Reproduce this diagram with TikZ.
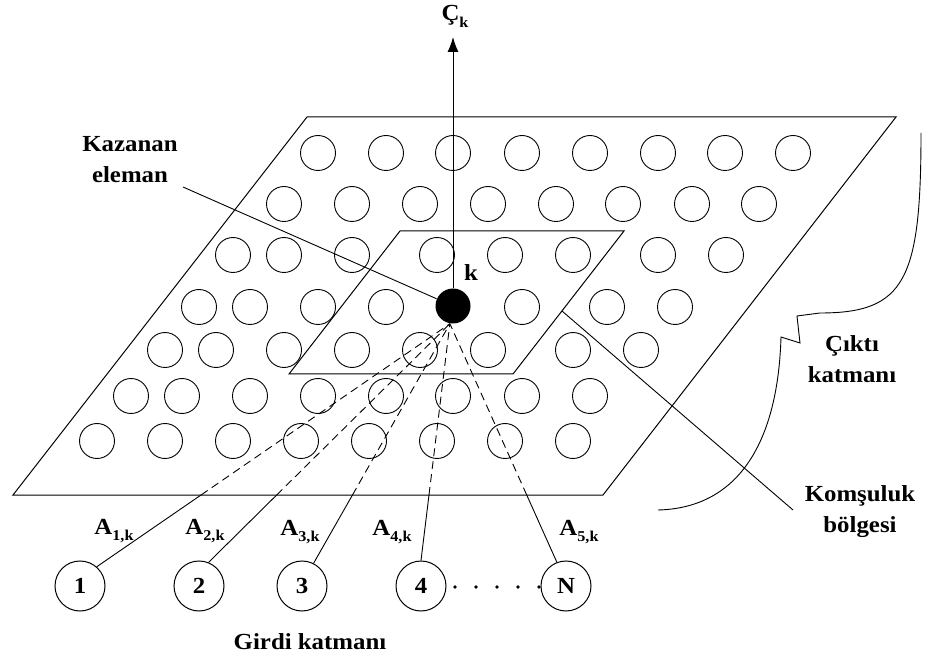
\documentclass[tikz,border=0pt]{standalone}
\usepackage{fontspec}
\setmainfont{Liberation Serif}[FakeStretch=1.08]
\usetikzlibrary{arrows.meta,calc}
\newcommand\lowsub[1]{\raisebox{-0.3em}{\fontsize{15}{15}\selectfont #1}}
\begin{document}
\begin{tikzpicture}[x=1pt,y=-1pt,line width=1pt,
  every node/.style={font=\fontsize{23}{31}\selectfont\bfseries, inner sep=0pt},
  cell/.style={line width=0.9pt},
  incircle/.style={circle, draw, line width=1pt, minimum size=50pt},
  winner/.style={circle, fill=black, minimum size=35pt},
  link/.style={line width=0.9pt},
  dashlink/.style={line width=0.9pt, dash pattern=on 8pt off 5pt},
  lbl/.style={anchor=base},
  txt/.style={align=center}]
\useasboundingbox (0,0) rectangle (927,660);

% outer plane
\coordinate (BL) at (13,495);
\coordinate (BR) at (603,495);
\coordinate (TR) at (896,117);
\coordinate (TL) at (307,117);
\draw (BL) -- (BR) -- (TR) -- (TL) -- cycle;

% neighbourhood region
\coordinate (iBL) at (289,374);
\coordinate (iBR) at (513,374);
\coordinate (iTR) at (624,231);
\coordinate (iTL) at (400,231);
\draw (iBL) -- (iBR) -- (iTR) -- (iTL) -- cycle;

% grid of units
\foreach \x in {318,386,453,522,590,658,725,793} \draw[cell] (\x,153) circle[radius=17.5];
\foreach \x in {284,352,420,488,556,623,692,759} \draw[cell] (\x,204) circle[radius=17.5];
\foreach \x in {233,284,352,437,505,573,658,726} \draw[cell] (\x,255) circle[radius=17.5];
\foreach \x in {199,250,318,386,522,607,675} \draw[cell] (\x,307) circle[radius=17.5];
\foreach \x in {165,216,284,352,420,488,573,641} \draw[cell] (\x,350) circle[radius=17.5];
\foreach \x in {131,182,250,318,386,453,522,590} \draw[cell] (\x,396) circle[radius=17.5];
\foreach \x in {97,165,233,301,369,437,505,573} \draw[cell] (\x,441) circle[radius=17.5];

% winning unit
\node[winner] (k) at (453,306) {};
\node (klabel) at (471,273) {k};

% output arrow
\coordinate (ktop) at (453,37);
\draw[-{Latex[length=15pt,width=11pt]}] (k) -- (ktop);
\node (ck) at (455,16) {Ç\lowsub{k}};

% input layer
\node[incircle] (in1) at (80,586) {1};
\node[incircle] (in2) at (199,586) {2};
\node[incircle] (in3) at (302,586) {3};
\node[incircle] (in4) at (421,586) {4};
\node[incircle] (inN) at (566,586) {N};
\foreach \x in {455,476,497,518,539} \fill (\x,587) circle[radius=1.9];

% connections
\coordinate (c1) at (intersection of in1.49--k.-100 and BL--BR);
\coordinate (c2) at (intersection of in2.68--k.-100 and BL--BR);
\coordinate (c3) at (intersection of in3.63--k.-100 and BL--BR);
\coordinate (c4) at (intersection of in4.90--k.-100 and BL--BR);
\coordinate (c5) at (intersection of inN.111--k.-100 and BL--BR);
\draw[link] (in1.49) -- (c1);  \draw[dashlink] (c1) -- (k.-100);
\draw[link] (in2.68) -- (c2);  \draw[dashlink] (c2) -- (k.-100);
\draw[link] (in3.63) -- (c3);  \draw[dashlink] (c3) -- (k.-100);
\draw[link] (in4.90) -- (c4);  \draw[dashlink] (c4) -- (k.-100);
\draw[link] (inN.111) -- (c5); \draw[dashlink] (c5) -- (k.-100);

% weight labels
\node[lbl] (a1) at (114,534) {A\lowsub{1,k}};
\node[lbl] (a2) at (205,534) {A\lowsub{2,k}};
\node[lbl] (a3) at (300,535) {A\lowsub{3,k}};
\node[lbl] (a4) at (392,535) {A\lowsub{4,k}};
\node[lbl] (a5) at (579,535) {A\lowsub{5,k}};

\node (girdi) at (310,642) {Girdi katmanı};

% winner pointer
\node[txt] (kaz) at (130,160) {Kazanan\\eleman};
\coordinate (kazp) at (183,187);
\draw[link] (kazp) -- (k);

% neighbourhood pointer
\coordinate (kp1) at (562,311);
\coordinate (kp2) at (793,510);
\draw[link] (kp1) -- (kp2);
\node[txt] (kom) at (860,512) {Komşuluk\\bölgesi};

% output layer brace
\draw[link] (921,133) .. controls (921,280) and (905,313) .. (820,313)
  -- (797,316) -- (800,343) -- (781,337)
  .. controls (778,440) and (740,508) .. (658,510);
\node[txt] (cikti) at (852,359) {Çıktı\\katmanı};
\end{tikzpicture}
\end{document}
